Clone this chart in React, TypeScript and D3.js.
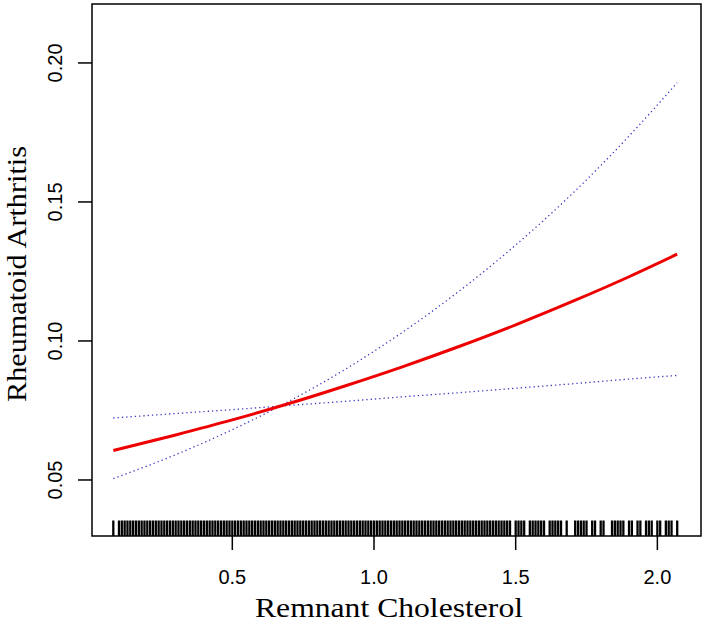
import React from "react";
import * as d3 from "d3";

const xGrid = [0.08, 0.3, 0.5, 0.7, 0.9, 1.1, 1.3, 1.5, 1.7, 1.9, 2.07];
const fitValues = [0.0606, 0.0662, 0.0716, 0.0775, 0.0839, 0.0907, 0.0980, 0.1058, 0.1142, 0.1231, 0.1312];
const steepBand = [0.0505, 0.0591, 0.0681, 0.0783, 0.0899, 0.1031, 0.1179, 0.1345, 0.1530, 0.1737, 0.1929];
const flatBand = [0.0723, 0.0739, 0.0753, 0.0768, 0.0783, 0.0799, 0.0814, 0.0830, 0.0846, 0.0863, 0.0876];

const xTicks = [0.5, 1.0, 1.5, 2.0];
const xTickLabels = ["0.5", "1.0", "1.5", "2.0"];
const yTicks = [0.05, 0.1, 0.15, 0.2];
const yTickLabels = ["0.05", "0.10", "0.15", "0.20"];

const rugValues = [
  0.08, 0.10, 0.11, 0.12, 0.13, 0.14, 0.15, 0.16, 0.17, 0.18, 0.19, 0.20,
  0.21, 0.22, 0.23, 0.24, 0.25, 0.26, 0.27, 0.28, 0.29, 0.30, 0.31, 0.32,
  0.33, 0.34, 0.35, 0.36, 0.37, 0.38, 0.39, 0.40, 0.41, 0.42, 0.43, 0.44,
  0.45, 0.46, 0.47, 0.48, 0.49, 0.50, 0.51, 0.52, 0.53, 0.54, 0.55, 0.56,
  0.57, 0.58, 0.59, 0.60, 0.61, 0.62, 0.63, 0.64, 0.65, 0.66, 0.67, 0.68,
  0.69, 0.70, 0.71, 0.72, 0.73, 0.74, 0.75, 0.76, 0.77, 0.78, 0.79, 0.80,
  0.81, 0.82, 0.83, 0.84, 0.85, 0.86, 0.87, 0.88, 0.89, 0.90, 0.91, 0.92,
  0.93, 0.94, 0.95, 0.96, 0.97, 0.98, 0.99, 1.00, 1.01, 1.02, 1.03, 1.04,
  1.05, 1.06, 1.07, 1.08, 1.09, 1.10, 1.11, 1.12, 1.13, 1.14, 1.15, 1.16,
  1.17, 1.18, 1.19, 1.20, 1.21, 1.22, 1.23, 1.24, 1.25, 1.26, 1.27, 1.28,
  1.29, 1.30, 1.31, 1.32, 1.33, 1.34, 1.35, 1.36, 1.37, 1.38, 1.39, 1.40,
  1.41, 1.42, 1.43, 1.44, 1.45, 1.46, 1.47, 1.48, 1.50, 1.51, 1.52, 1.53,
  1.55, 1.56, 1.57, 1.58, 1.59, 1.60, 1.62, 1.63, 1.64, 1.65, 1.66, 1.68,
  1.71, 1.72, 1.73, 1.74, 1.75, 1.77, 1.78, 1.80, 1.81, 1.84, 1.85, 1.86,
  1.87, 1.88, 1.90, 1.91, 1.93, 1.94, 1.96, 1.97, 1.98, 2.00, 2.01, 2.03,
  2.04, 2.05, 2.07,
];

const W = 708;
const H = 624;
const left = 92;
const right = 701;
const top = 4;
const bottom = 536;

export default function App() {
  const x = d3.scaleLinear().domain([0.0048, 2.154]).range([left, right]);
  const y = d3.scaleLinear().domain([0.02985, 0.2212]).range([bottom, top]);

  const mk = (vals: number[]) =>
    d3
      .line<number>()
      .x((_, i) => x(xGrid[i]))
      .y((d) => y(d))
      .curve(d3.curveMonotoneX)(vals) || "";

  const sans = "'Liberation Sans', Arial, sans-serif";
  const serif = "'Liberation Serif', 'Times New Roman', serif";

  return (
    <svg
      width={W}
      height={H}
      style={{ position: "absolute", left: 0, top: 0, background: "#fff" }}
    >
      <rect x={0} y={0} width={W} height={H} fill="#fff" />
      {/* rug */}
      <g>
        {rugValues.map((v, i) => (
          <line
            key={i}
            x1={x(v)}
            x2={x(v)}
            y1={bottom}
            y2={bottom - 15.5}
            stroke="#000"
            strokeWidth={2.3}
          />
        ))}
      </g>
      {/* curves */}
      <path d={mk(steepBand)} fill="none" stroke="#3a3ac0" strokeWidth={1.3} strokeDasharray="1.3 3" />
      <path d={mk(flatBand)} fill="none" stroke="#3a3ac0" strokeWidth={1.3} strokeDasharray="1.3 3" />
      <path d={mk(fitValues)} fill="none" stroke="#ee0000" strokeWidth={3} />
      {/* box */}
      <rect
        x={left}
        y={top}
        width={right - left}
        height={bottom - top}
        fill="none"
        stroke="#000"
        strokeWidth={1.5}
      />
      {/* x axis */}
      {xTicks.map((t, i) => (
        <g key={i}>
          <line x1={x(t)} x2={x(t)} y1={bottom} y2={bottom + 14} stroke="#000" strokeWidth={1.5} />
          <text x={x(t)} y={584} textAnchor="middle" fontFamily={sans} fontSize={20} fill="#000">
            {xTickLabels[i]}
          </text>
        </g>
      ))}
      {/* y axis */}
      {yTicks.map((t, i) => (
        <g key={i}>
          <line x1={left - 14} x2={left} y1={y(t)} y2={y(t)} stroke="#000" strokeWidth={1.5} />
          <text
            transform={`translate(62,${y(t)}) rotate(-90)`}
            textAnchor="middle"
            fontFamily={sans}
            fontSize={20}
            fill="#000"
          >
            {yTickLabels[i]}
          </text>
        </g>
      ))}
      <text
        x={389}
        y={617}
        textAnchor="middle"
        fontFamily={serif}
        fontSize={28}
        textLength={268}
        lengthAdjust="spacingAndGlyphs"
        fill="#000"
      >
        Remnant Cholesterol
      </text>
      <text
        transform={`translate(26,274) rotate(-90)`}
        textAnchor="middle"
        fontFamily={serif}
        fontSize={28}
        textLength={256}
        lengthAdjust="spacingAndGlyphs"
        fill="#000"
      >
        Rheumatoid Arthritis
      </text>
    </svg>
  );
}
